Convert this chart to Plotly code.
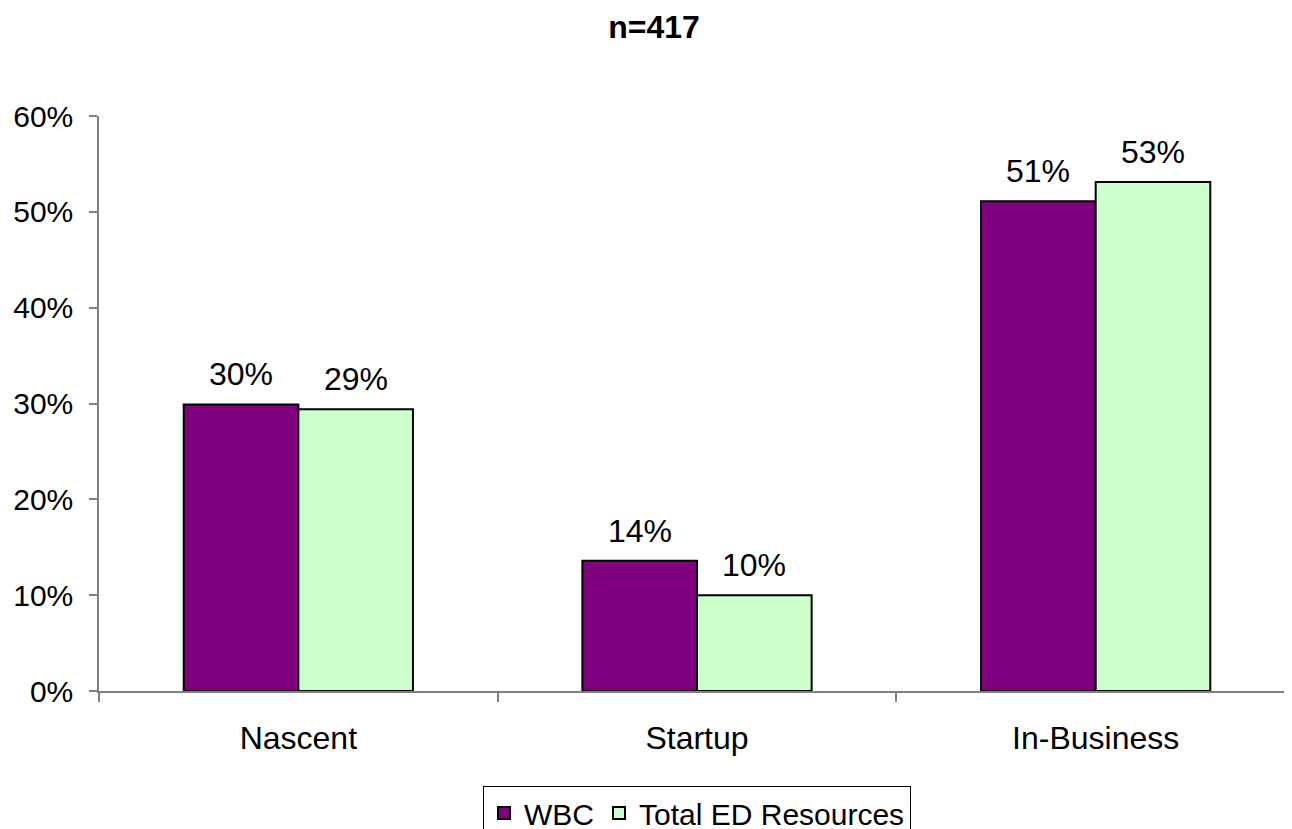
import plotly.graph_objects as go

categories = ["Nascent", "Startup", "In-Business"]
wbc_values = [0.299, 0.136, 0.511]
total_ed_values = [0.294, 0.100, 0.531]
wbc_labels = ["30%", "14%", "51%"]
total_ed_labels = ["29%", "10%", "53%"]
y_tickvals = [0, 0.1, 0.2, 0.3, 0.4, 0.5, 0.6]
y_ticktext = ["0%", "10%", "20%", "30%", "40%", "50%", "60%"]

FONT = "Liberation Sans, Arial, sans-serif"
BARGAP = 0.425

fig = go.Figure()
fig.add_trace(go.Bar(
    name="WBC", x=categories, y=wbc_values,
    marker=dict(color="#800080", line=dict(color="black", width=2)),
))
fig.add_trace(go.Bar(
    name="Total ED Resources", x=categories, y=total_ed_values,
    marker=dict(color="#CCFFCC", line=dict(color="black", width=2)),
))

# data labels placed through the category axis (offset = quarter of group width)
off = (1 - BARGAP) / 4
for i, (v, t) in enumerate(zip(wbc_values, wbc_labels)):
    fig.add_annotation(x=i - off, y=v, xref="x", yref="y", text=t, showarrow=False,
                       yanchor="bottom", yshift=10, font=dict(size=32, color="black", family=FONT))
for i, (v, t) in enumerate(zip(total_ed_values, total_ed_labels)):
    fig.add_annotation(x=i + off, y=v, xref="x", yref="y", text=t, showarrow=False,
                       yanchor="bottom", yshift=10, font=dict(size=32, color="black", family=FONT))

fig.update_layout(
    width=1292, height=829,
    margin=dict(l=91, r=5, t=108, b=146, autoexpand=False),
    paper_bgcolor="white", plot_bgcolor="white",
    barmode="group", bargap=BARGAP, bargroupgap=0,
    font=dict(family=FONT, size=30, color="black"),
    title=dict(text="<b>n=417</b>", x=0.5, xanchor="center", y=1 - 19 / 829, yanchor="middle",
               yref="container", font=dict(size=32, family=FONT, color="black")),
    showlegend=True,
    legend=dict(orientation="h", x=0.5, xanchor="center", xref="paper",
                y=1 - 778 / 829, yanchor="top", yref="container",
                bordercolor="black", borderwidth=1, font=dict(size=30, family=FONT),
                tracegroupgap=0),
    xaxis=dict(type="category", showline=True, linecolor="#808080", linewidth=1.5,
               ticks="outside", tickson="boundaries", ticklen=9, tickcolor="#808080",
               tickwidth=1.5, showgrid=False, tickfont=dict(size=32), ticklabelstandoff=18,
               range=[-0.5, 2.5], automargin=False),
    yaxis=dict(range=[0, 0.6], tickvals=y_tickvals, ticktext=y_ticktext, showline=True,
               linecolor="#808080", linewidth=1.5, ticks="outside", ticklen=8,
               tickcolor="#808080", tickwidth=1.5, showgrid=False, zeroline=False,
               tickfont=dict(size=30), ticklabelstandoff=10, automargin=False),
)

fig.write_html("out.html")
